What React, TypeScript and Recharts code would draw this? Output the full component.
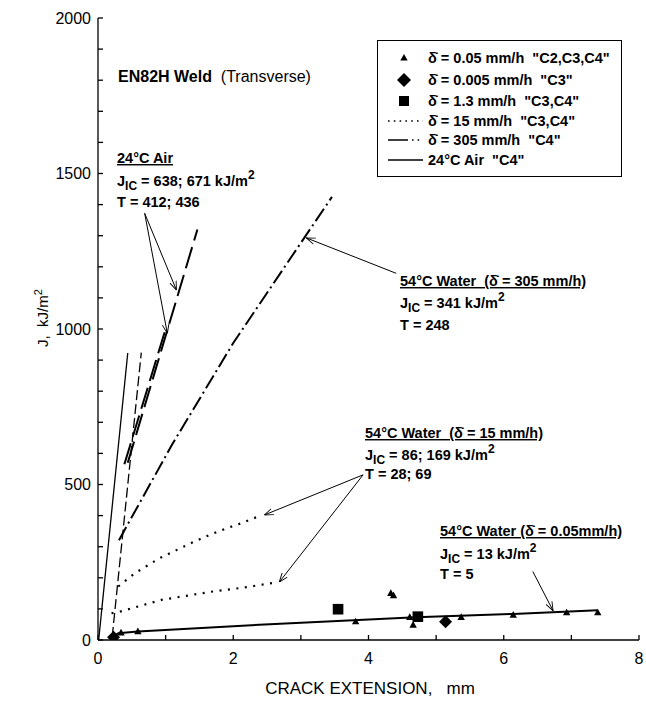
import React from 'react';
import { ComposedChart, Line, Scatter, XAxis, YAxis, ReferenceLine, Legend } from 'recharts';

const FONT = '"Liberation Sans", Arial, Helvetica, sans-serif';

// ---------- axes ----------
const xTicks = [0, 1, 2, 3, 4, 5, 6, 7, 8];
const xLabelTicks = [0, 2, 4, 6, 8];
const yTicks = [0, 100, 200, 300, 400, 500, 600, 700, 800, 900, 1000, 1100, 1200, 1300, 1400, 1500, 1600, 1700, 1800, 1900, 2000];
const yLabelTicks = [0, 500, 1000, 1500, 2000];

// ---------- lines ----------
const bluntingLine = [{ x: 0.01, y: 0 }, { x: 0.44, y: 923 }];
const offsetLine = [{ x: 0.21, y: 10 }, { x: 0.64, y: 924 }];
const air24A = [{ x: 0.44, y: 570 }, { x: 1.47, y: 1320 }];
const air24B = [{ x: 0.39, y: 565 }, { x: 1.0, y: 1000 }];
const water305 = [{ x: 0.31, y: 321 }, { x: 1.1, y: 630 }, { x: 2.0, y: 955 }, { x: 3.46, y: 1425 }];
const water15Upper = [
  { x: 0.3, y: 172 }, { x: 0.54, y: 214 }, { x: 0.91, y: 263 }, { x: 1.16, y: 289 }, { x: 1.4, y: 314 },
  { x: 1.65, y: 338 }, { x: 1.9, y: 359 }, { x: 2.14, y: 377 }, { x: 2.38, y: 398 },
];
const water15Lower = [
  { x: 0.2, y: 86 }, { x: 0.32, y: 91 }, { x: 0.94, y: 129 }, { x: 1.67, y: 155 }, { x: 2.2, y: 170 }, { x: 2.66, y: 186 },
];
const water005Fit = [
  { x: 0.22, y: 9 }, { x: 0.3, y: 22 }, { x: 0.59, y: 27 }, { x: 2.54, y: 51 }, { x: 4.7, y: 73 }, { x: 6.14, y: 84 }, { x: 7.39, y: 96 },
];

// ---------- points ----------
const triangles005 = [
  { x: 0.34, y: 23 }, { x: 0.59, y: 27 }, { x: 3.81, y: 59 }, { x: 4.33, y: 150 }, { x: 4.37, y: 143 },
  { x: 4.61, y: 73 }, { x: 4.66, y: 48 }, { x: 5.37, y: 73 }, { x: 6.14, y: 80 }, { x: 6.93, y: 88 }, { x: 7.39, y: 88 },
];
const diamonds0005 = [{ x: 0.23, y: 9 }, { x: 5.14, y: 59 }];
const squares13 = [{ x: 3.55, y: 99 }, { x: 4.73, y: 75 }];

// ---------- annotation arrows (data coords) ----------
const arrowsAir = [
  [{ x: 0.69, y: 1372 }, { x: 1.16, y: 1125 }],
  [{ x: 0.69, y: 1372 }, { x: 1.025, y: 986 }],
];
const arrow305 = [[{ x: 4.41, y: 1179 }, { x: 3.08, y: 1293 }]];
const arrows15 = [
  [{ x: 3.92, y: 531 }, { x: 2.46, y: 402 }],
  [{ x: 3.92, y: 531 }, { x: 2.68, y: 186 }],
];
const arrow005 = [[{ x: 6.43, y: 220 }, { x: 6.73, y: 94 }]];

// ---------- texts ----------
const DOT_DELTA = 'δ\u0307';
const legendLabels = [
  `${DOT_DELTA} = 0.05 mm/h  "C2,C3,C4"`,
  `${DOT_DELTA} = 0.005 mm/h  "C3"`,
  `${DOT_DELTA} = 1.3 mm/h  "C3,C4"`,
  `${DOT_DELTA} = 15 mm/h  "C3,C4"`,
  `${DOT_DELTA} = 305 mm/h  "C4"`,
  `24°C Air  "C4"`,
];

const TriangleShape = (p: any) => {
  const { cx, cy } = p;
  if (cx == null || cy == null) return <g />;
  return <polygon points={`${cx},${cy - 4} ${cx + 3.7},${cy + 2.6} ${cx - 3.7},${cy + 2.6}`} fill="#000" />;
};
const DiamondShape = (p: any) => {
  const { cx, cy } = p;
  if (cx == null || cy == null) return <g />;
  return <polygon points={`${cx},${cy - 6.5} ${cx + 6.5},${cy} ${cx},${cy + 6.5} ${cx - 6.5},${cy}`} fill="#000" />;
};
const SquareShape = (p: any) => {
  const { cx, cy } = p;
  if (cx == null || cy == null) return <g />;
  return <rect x={cx - 5.3} y={cy - 5.3} width={10.6} height={10.6} fill="#000" />;
};

const LegendBox = () => {
  const rowY = [17, 39, 60, 80, 99, 119];
  const samples = [
    <polygon points="26,4 29.7,10.6 22.3,10.6" fill="#000" />,
    <polygon points="26,1 33,8 26,15 19,8" fill="#000" />,
    <rect x={21} y={3} width={10} height={10} fill="#000" />,
    <line x1={10} y1={8} x2={45} y2={8} stroke="#000" strokeWidth={1.6} strokeDasharray="1.6 4.2" />,
    <line x1={10} y1={8} x2={45} y2={8} stroke="#000" strokeWidth={1.4} strokeDasharray="20 4 1.6 4 1.6 20" />,
    <line x1={10} y1={8} x2={45} y2={8} stroke="#000" strokeWidth={1.4} />,
  ];
  return (
    <div style={{ position: 'relative', width: 245, height: 137, boxSizing: 'border-box', border: '1.6px solid #000', background: '#fff', fontFamily: FONT }}>
      {legendLabels.map((lab, i) => (
        <div key={i} style={{ position: 'absolute', left: 0, top: rowY[i] - 8, height: 16, width: 243 }}>
          <svg width={50} height={16} style={{ position: 'absolute', left: 0, top: 0 }}>{samples[i]}</svg>
          <span style={{ position: 'absolute', left: 50, top: -1, fontSize: 14.5, fontWeight: 'bold', whiteSpace: 'pre', lineHeight: '18px' }}>{lab}</span>
        </div>
      ))}
    </div>
  );
};

const tickStyle = { fill: '#000', fontSize: 16, fontFamily: FONT };
const axisStyle = { stroke: '#000', strokeWidth: 1.3 };

const J = (props: { x: number; y: number; body: string; size?: number }) => (
  <text x={props.x} y={props.y} fontSize={props.size || 14.5} fontWeight="bold" style={{ whiteSpace: 'pre' }}>
    J<tspan dy={4} fontSize={12}>IC</tspan><tspan dy={-4}>{props.body}</tspan><tspan dy={-7} fontSize={12}>2</tspan>
  </text>
);

export default function App() {
  const common = { xAxisId: 'b', yAxisId: 'l', isAnimationActive: false, dot: false, activeDot: false, stroke: '#000', type: 'linear' as const, dataKey: 'y', legendType: 'none' as const };
  const arrowLines = [...arrowsAir, ...arrow305, ...arrows15, ...arrow005];
  return (
    <div style={{ position: 'absolute', left: 0, top: 0, width: 646, height: 702, background: '#fff' }}>
      <svg width={0} height={0} style={{ position: 'absolute' }}>
        <defs>
          <marker id="arrowHead" viewBox="0 0 10 10" refX="10" refY="5" markerWidth="9" markerHeight="9" orient="auto" markerUnits="userSpaceOnUse">
            <path d="M0,1.3 L10,5 L0,8.7" fill="none" stroke="#000" strokeWidth="1" />
          </marker>
        </defs>
      </svg>
      <ComposedChart width={646} height={702} margin={{ top: 18, right: 7, bottom: 22, left: 0 }}>
        <XAxis xAxisId="b" dataKey="x" type="number" domain={[0, 8]} ticks={xTicks} allowDataOverflow
          tickFormatter={(v: number) => (xLabelTicks.includes(v) ? String(v) : '')}
          orientation="bottom" height={40} tickSize={-5} tickMargin={18} axisLine={axisStyle} tickLine={axisStyle} tick={tickStyle} />
        <XAxis xAxisId="t" dataKey="x" type="number" domain={[0, 8]} ticks={xTicks} allowDataOverflow
          tickFormatter={() => ''} orientation="top" height={0} tickSize={-5} axisLine={axisStyle} tickLine={axisStyle} tick={tickStyle} />
        <YAxis yAxisId="l" dataKey="y" type="number" domain={[0, 2000]} ticks={yTicks} allowDataOverflow
          tickFormatter={(v: number) => (yLabelTicks.includes(v) ? String(v) : '')}
          orientation="left" width={98} tickSize={-5} tickMargin={12} axisLine={axisStyle} tickLine={axisStyle} tick={tickStyle} />
        <YAxis yAxisId="r" dataKey="y" type="number" domain={[0, 2000]} ticks={yTicks} allowDataOverflow
          tickFormatter={() => ''} orientation="right" width={0} tickSize={-5} axisLine={axisStyle} tickLine={axisStyle} tick={tickStyle} />

        <Line {...common} data={bluntingLine} strokeWidth={1.3} />
        <Line {...common} data={offsetLine} strokeWidth={1.3} strokeDasharray="10 4" />
        <Line {...common} data={air24A} strokeWidth={2} strokeDasharray="22 7" />
        <Line {...common} data={air24B} strokeWidth={2} strokeDasharray="22 7" />
        <Line {...common} data={water305} strokeWidth={2} strokeDasharray="15 4 2 4" />
        <Line {...common} data={water15Upper} strokeWidth={2.2} strokeDasharray="2 6.5" />
        <Line {...common} data={water15Lower} strokeWidth={2.2} strokeDasharray="2 6.5" />
        <Line {...common} data={water005Fit} strokeWidth={2} />

        <Scatter xAxisId="b" yAxisId="l" data={triangles005} dataKey="y" shape={TriangleShape} isAnimationActive={false} legendType="none" />
        <Scatter xAxisId="b" yAxisId="l" data={squares13} dataKey="y" shape={SquareShape} isAnimationActive={false} legendType="none" />
        <Scatter xAxisId="b" yAxisId="l" data={diamonds0005} dataKey="y" shape={DiamondShape} isAnimationActive={false} legendType="none" />

        {arrowLines.map((seg, i) => (
          <ReferenceLine key={i} xAxisId="b" yAxisId="l" segment={seg} stroke="#000" strokeWidth={1} markerEnd="url(#arrowHead)" ifOverflow="visible" />
        ))}

        <Legend content={() => <LegendBox />} layout="vertical" align="center" verticalAlign="middle"
          wrapperStyle={{ left: 377, top: 40, width: 245, height: 137 }} />
      </ComposedChart>

      <svg width={646} height={702} style={{ position: 'absolute', left: 0, top: 0, pointerEvents: 'none' }} fontFamily={FONT}>
        <text x={118} y={82} fontSize={16} style={{ whiteSpace: 'pre' }}>
          <tspan fontWeight="bold">EN82H Weld</tspan><tspan>{'  (Transverse)'}</tspan>
        </text>

        <text x={117} y={163} fontSize={14.5} fontWeight="bold" textDecoration="underline">24°C Air</text>
        <J x={117} y={186} body=" = 638; 671 kJ/m" />
        <text x={117} y={207} fontSize={14.5} fontWeight="bold">T = 412; 436</text>

        <text x={400} y={286} fontSize={14.5} fontWeight="bold" textDecoration="underline" style={{ whiteSpace: 'pre' }}>{`54°C Water  (${DOT_DELTA} = 305 mm/h)`}</text>
        <J x={400} y={308} body=" = 341 kJ/m" />
        <text x={400} y={330} fontSize={14.5} fontWeight="bold">T = 248</text>

        <text x={365} y={438} fontSize={14.5} fontWeight="bold" textDecoration="underline" style={{ whiteSpace: 'pre' }}>{`54°C Water  (${DOT_DELTA} = 15 mm/h)`}</text>
        <J x={365} y={460} body=" = 86; 169 kJ/m" />
        <text x={365} y={479} fontSize={14.5} fontWeight="bold">T = 28; 69</text>

        <text x={440} y={536} fontSize={14.5} fontWeight="bold" textDecoration="underline" style={{ whiteSpace: 'pre' }}>{`54°C Water (${DOT_DELTA} = 0.05mm/h)`}</text>
        <J x={440} y={559} body=" = 13 kJ/m" />
        <text x={440} y={579} fontSize={14.5} fontWeight="bold">T = 5</text>

        <text transform="translate(48,318) rotate(-90)" textAnchor="middle" fontSize={15} style={{ whiteSpace: 'pre' }}>
          J,  kJ/m<tspan dy={-6} fontSize={11}>2</tspan>
        </text>
        <text x={370} y={694} textAnchor="middle" fontSize={17} style={{ whiteSpace: 'pre' }}>CRACK EXTENSION,   mm</text>
      </svg>
    </div>
  );
}
